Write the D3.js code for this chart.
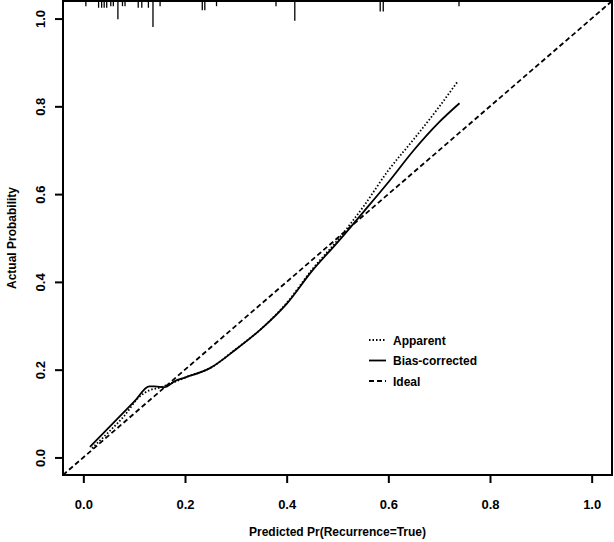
<!DOCTYPE html>
<html>
<head>
<meta charset="utf-8">
<script src="https://cdn.jsdelivr.net/npm/d3@7"></script>
<style>
  body { margin: 0; background: #fff; }
  text { font-family: "Liberation Sans", Arial, sans-serif; font-weight: bold; fill: #000; }
</style>
</head>
<body>
<svg width="614" height="542"></svg>
<script>
// calibration curve values
var apparentX = [0.017, 0.05, 0.08, 0.11, 0.13, 0.15, 0.18, 0.20, 0.25, 0.30, 0.35, 0.40, 0.45, 0.50, 0.55, 0.60, 0.65, 0.70, 0.736];
var apparentY = [0.021, 0.058, 0.094, 0.138, 0.153, 0.159, 0.172, 0.182, 0.204, 0.247, 0.293, 0.352, 0.428, 0.495, 0.570, 0.654, 0.725, 0.799, 0.856];

var biasX = [0.013, 0.05, 0.10, 0.13, 0.14, 0.16, 0.18, 0.20, 0.25, 0.30, 0.35, 0.40, 0.45, 0.50, 0.55, 0.60, 0.65, 0.70, 0.74];
var biasY = [0.024, 0.068, 0.127, 0.162, 0.162, 0.160, 0.174, 0.182, 0.204, 0.246, 0.293, 0.350, 0.425, 0.490, 0.558, 0.627, 0.700, 0.764, 0.807];

var idealX = [-0.04, 1.04];

// rug of predicted values at the top (position, relative frequency)
var rugX = [0.005, 0.030, 0.036, 0.041, 0.046, 0.054, 0.059, 0.068, 0.077, 0.082, 0.108, 0.115, 0.128, 0.137, 0.151, 0.234, 0.239, 0.262, 0.379, 0.416, 0.584, 0.590, 0.739];
var rugFreq = [1, 1.3, 1.3, 1.3, 1.3, 1, 1, 3.5, 1, 1, 1.3, 1.3, 1.3, 5, 1, 1.8, 1.8, 1, 1, 3.8, 2, 2, 1];

var tickVals = [0, 0.2, 0.4, 0.6, 0.8, 1.0];
var legendLabels = ["Apparent", "Bias-corrected", "Ideal"];
var legendDash = ["1.5,2", null, "5,3"];

(function () {

  var svg = d3.select("svg");

  var pl = 63, pr = 612, pt = 1, pb = 475;

  var x = d3.scaleLinear().domain([-0.04, 1.04]).range([pl, pr]);
  var y = d3.scaleLinear().domain([-0.04, 1.04]).range([pb, pt]);
  var rugLen = d3.scaleLinear().domain([0, 5]).range([0, 26]);

  var g = svg.append("g");

  // clip for the ideal line
  svg.append("clipPath").attr("id", "box")
    .append("rect").attr("x", pl).attr("y", pt).attr("width", pr - pl).attr("height", pb - pt);

  var line = d3.line()
    .x(function(d){ return x(d[0]); })
    .y(function(d){ return y(d[1]); })
    .curve(d3.curveMonotoneX);

  g.append("path")
    .attr("clip-path", "url(#box)")
    .datum(idealX.map(function(v){ return [v, v]; }))
    .attr("d", d3.line().x(function(d){ return x(d[0]); }).y(function(d){ return y(d[1]); }))
    .attr("fill", "none").attr("stroke", "#000").attr("stroke-width", 1.8)
    .attr("stroke-dasharray", "5,3");

  g.append("path")
    .datum(apparentX.map(function(v, i){ return [v, apparentY[i]]; }))
    .attr("d", line)
    .attr("fill", "none").attr("stroke", "#000").attr("stroke-width", 1.8)
    .attr("stroke-dasharray", "1.5,2");

  g.append("path")
    .datum(biasX.map(function(v, i){ return [v, biasY[i]]; }))
    .attr("d", line)
    .attr("fill", "none").attr("stroke", "#000").attr("stroke-width", 1.8);

  // rug
  g.selectAll(".rug")
    .data(rugX)
    .enter()
    .append("line")
    .attr("class", "rug")
    .attr("x1", function(d){ return x(d); })
    .attr("x2", function(d){ return x(d); })
    .attr("y1", pt)
    .attr("y2", function(d, i){ return pt + rugLen(rugFreq[i]); })
    .attr("stroke", "#000").attr("stroke-width", 1.3);

  // box
  g.append("rect")
    .attr("x", pl).attr("y", pt)
    .attr("width", pr - pl).attr("height", pb - pt)
    .attr("fill", "none").attr("stroke", "#000").attr("stroke-width", 2);

  // axes
  var xAxis = d3.axisBottom(x).tickValues(tickVals).tickSize(8).tickFormat(d3.format(".1f"));
  var yAxis = d3.axisLeft(y).tickValues(tickVals).tickSize(8).tickFormat(d3.format(".1f"));

  var gx = svg.append("g").attr("transform", "translate(0," + pb + ")").call(xAxis);
  gx.select(".domain").remove();
  gx.selectAll("line").attr("stroke", "#000").attr("stroke-width", 2);
  gx.selectAll("text").attr("y", 25).attr("dy", "0.71em").style("font-size", "13px")
    .style("font-family", "'Liberation Sans', Arial, sans-serif").style("font-weight", "bold");

  var gy = svg.append("g").attr("transform", "translate(" + pl + ",0)").call(yAxis);
  gy.select(".domain").remove();
  gy.selectAll("line").attr("stroke", "#000").attr("stroke-width", 2);
  gy.selectAll("text")
    .attr("x", null).attr("dy", null).attr("y", null)
    .attr("text-anchor", "middle")
    .attr("transform", "translate(-18,0) rotate(-90)")
    .style("font-size", "13px")
    .style("font-family", "'Liberation Sans', Arial, sans-serif").style("font-weight", "bold");

  // axis titles
  svg.append("text")
    .attr("x", (pl + pr) / 2).attr("y", 536)
    .attr("text-anchor", "middle").style("font-size", "12px")
    .text("Predicted Pr(Recurrence=True)");

  svg.append("text")
    .attr("transform", "translate(16," + (pt + pb) / 2 + ") rotate(-90)")
    .attr("text-anchor", "middle").style("font-size", "12px")
    .text("Actual Probability");

  // legend
  var leg = svg.append("g").attr("transform", "translate(369,340)");
  leg.selectAll("line")
    .data(legendLabels)
    .enter()
    .append("line")
    .attr("x1", 0).attr("x2", 17)
    .attr("y1", function(d, i){ return i * 20.5; })
    .attr("y2", function(d, i){ return i * 20.5; })
    .attr("stroke", "#000").attr("stroke-width", 1.8)
    .attr("stroke-dasharray", function(d, i){ return legendDash[i]; });
  leg.selectAll("text")
    .data(legendLabels)
    .enter()
    .append("text")
    .attr("x", 24)
    .attr("y", function(d, i){ return i * 20.5 + 4.5; })
    .style("font-size", "12px")
    .text(function(d){ return d; });

})();
</script>
</body>
</html>
